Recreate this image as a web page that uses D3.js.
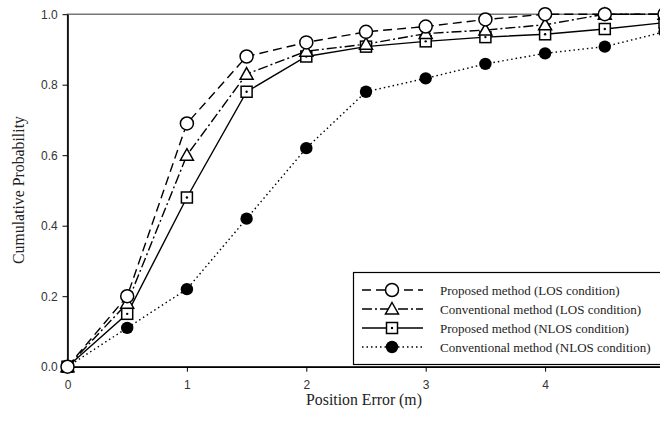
<!DOCTYPE html>
<html>
<head>
<meta charset="utf-8">
<script src="https://cdn.jsdelivr.net/npm/d3@7"></script>
<style>
  body { margin: 0; background: #fff; }
  svg { display: block; }
</style>
</head>
<body>
<script>
// position error (m)
const errors = [0, 0.5, 1, 1.5, 2, 2.5, 3, 3.5, 4, 4.5, 5];
const proposedLOS = [0, 0.20, 0.69, 0.88, 0.92, 0.95, 0.965, 0.985, 1.0, 1.0, 1.0];
const conventionalLOS = [0, 0.18, 0.60, 0.83, 0.895, 0.915, 0.945, 0.955, 0.97, 1.0, 1.0];
const proposedNLOS = [0, 0.15, 0.48, 0.78, 0.88, 0.908, 0.923, 0.935, 0.943, 0.958, 0.976];
const conventionalNLOS = [0, 0.11, 0.22, 0.42, 0.62, 0.78, 0.818, 0.859, 0.889, 0.908, 0.95];
const seriesNames = [
    "Proposed method (LOS condition)",
    "Conventional method (LOS condition)",
    "Proposed method (NLOS condition)",
    "Conventional method (NLOS condition)"
];
// the 5 tick sits just past the right edge of the picture, so it gets no label
const xTicks = [0, 1, 2, 3, 4];
const yTicks = [0, 0.2, 0.4, 0.6, 0.8, 1.0];

const width = 660, height = 425;

const svg = d3.select("body")
    .append("svg")
    .attr("width", width)
    .attr("height", height)

const x = d3.scaleLinear().domain([0, 5]).range([67.5, 664.5]);
const y = d3.scaleLinear().domain([0, 1]).range([366.7, 14.2]);

// frame
svg.append("rect")
    .attr("x", x(0)).attr("y", y(1))
    .attr("width", x(5) - x(0)).attr("height", y(0) - y(1))
    .attr("fill", "none").attr("stroke", "#555").attr("stroke-width", 1.2)

const xAxis = d3.axisBottom(x).tickValues(xTicks).tickFormat(d3.format("d")).tickSize(5).tickSizeOuter(0)
const yAxis = d3.axisLeft(y).tickValues(yTicks).tickFormat(d3.format(".1f")).tickSize(5).tickSizeOuter(0)

const gx = svg.append("g")
    .attr("transform", "translate(0," + y(0) + ")")
    .call(xAxis)
const gy = svg.append("g")
    .attr("transform", "translate(" + x(0) + ",0)")
    .call(yAxis)

for (const g of [gx, gy]) {
    g.select(".domain").attr("stroke", "#000").attr("stroke-width", 1.6)
    g.selectAll(".tick line").attr("stroke", "#000").attr("stroke-width", 1)
    g.selectAll(".tick text")
        .attr("font-family", "Liberation Sans, Arial, sans-serif")
        .attr("font-size", 12)
        .attr("fill", "#333")
}
gx.selectAll(".tick text").attr("dy", "1.2em")
gy.selectAll(".tick text").attr("dx", "-0.15em")

// axis titles
svg.append("text")
    .attr("x", 364).attr("y", 405)
    .attr("text-anchor", "middle")
    .attr("font-family", "Liberation Serif, Times New Roman, serif")
    .attr("font-size", 15.8)
    .attr("fill", "#222")
    .text("Position Error (m)")
svg.append("text")
    .attr("transform", "translate(24,190) rotate(-90)")
    .attr("text-anchor", "middle")
    .attr("font-family", "Liberation Serif, Times New Roman, serif")
    .attr("font-size", 15.8)
    .attr("fill", "#222")
    .text("Cumulative Probability")

const styles = [
    { dash: "9,5", marker: "circle" },
    { dash: "10,3,2,3", marker: "triangle" },
    { dash: null, marker: "square" },
    { dash: "1.5,3", marker: "filled" }
];
const allSeries = [proposedLOS, conventionalLOS, proposedNLOS, conventionalNLOS];

const line = d3.line()
    .x((d, i) => x(errors[i]))
    .y(d => y(d))

const drawMarker = (g, kind) => {
    if (kind === "circle") {
        g.append("circle").attr("r", 6.5).attr("fill", "#fff").attr("stroke", "#000").attr("stroke-width", 1.5)
    } else if (kind === "triangle") {
        g.append("path").attr("d", "M0,-6.5L6.5,5L-6.5,5Z").attr("fill", "#fff").attr("stroke", "#000").attr("stroke-width", 1.5)
    } else if (kind === "square") {
        g.append("rect").attr("x", -5.5).attr("y", -5.5).attr("width", 11).attr("height", 11)
            .attr("fill", "#fff").attr("stroke", "#000").attr("stroke-width", 1.5)
        g.append("circle").attr("r", 1.2).attr("fill", "#000")
    } else {
        g.append("circle").attr("r", 6.2).attr("fill", "#000")
    }
}

const plot = svg.append("g")

// lines first, then markers (drawn in reverse so the LOS markers sit on top)
allSeries.forEach((s, k) => {
    plot.append("path")
        .datum(s)
        .attr("d", line)
        .attr("fill", "none")
        .attr("stroke", "#000")
        .attr("stroke-width", 1.4)
        .attr("stroke-dasharray", styles[k].dash)
})
for (let k = allSeries.length - 1; k >= 0; k--) {
    allSeries[k].forEach((v, i) => {
        const m = plot.append("g").attr("transform", "translate(" + x(errors[i]) + "," + y(v) + ")")
        drawMarker(m, styles[k].marker)
    })
}

// legend
const legend = svg.append("g")
legend.append("rect")
    .attr("x", 353.5).attr("y", 272.5)
    .attr("width", 310).attr("height", 92)
    .attr("fill", "#fff").attr("stroke", "#000").attr("stroke-width", 1.2)

seriesNames.forEach((name, k) => {
    const ly = 290 + k * 19
    legend.append("line")
        .attr("x1", 362).attr("x2", 423)
        .attr("y1", ly).attr("y2", ly)
        .attr("stroke", "#000").attr("stroke-width", 1.4)
        .attr("stroke-dasharray", styles[k].dash)
    drawMarker(legend.append("g").attr("transform", "translate(392," + ly + ")"), styles[k].marker)
    legend.append("text")
        .attr("x", 440).attr("y", ly + 4.5)
        .attr("font-family", "Liberation Serif, Times New Roman, serif")
        .attr("font-size", 13)
        .attr("fill", "#222")
        .text(name)
})
</script>
</body>
</html>
